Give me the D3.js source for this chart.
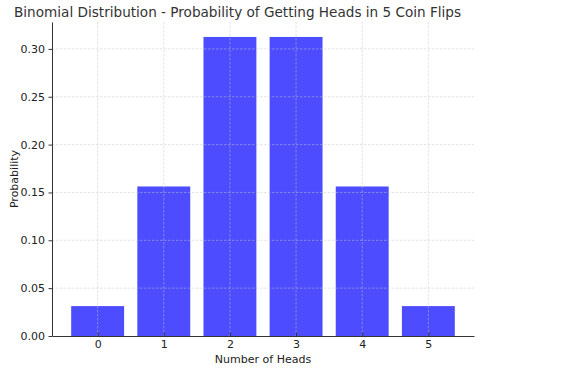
<!DOCTYPE html>
<html>
<head>
<meta charset="utf-8">
<script src="https://cdn.jsdelivr.net/npm/d3@7"></script>
<style>
  body { margin: 0; background: #fff; }
  svg text { font-family: "DejaVu Sans", sans-serif; }
</style>
</head>
<body>
<div id="chart"></div>
<script>
const heads = [0, 1, 2, 3, 4, 5];
const probs = [0.03125, 0.15625, 0.3125, 0.3125, 0.15625, 0.03125];
const yTicks = [0, 0.05, 0.1, 0.15, 0.2, 0.25, 0.3];

const W = 577, H = 372;
const margin = { top: 22, right: 103, bottom: 36, left: 52 };
const width = W - margin.left - margin.right;
const height = H - margin.top - margin.bottom;

const svg = d3.select("#chart").append("svg")
  .attr("width", W).attr("height", H);

const g = svg.append("g")
  .attr("transform", `translate(${margin.left},${margin.top})`);

const x = d3.scaleLinear().domain([-0.69, 5.69]).range([0, width]);
const y = d3.scaleLinear().domain([0, 0.328125]).range([height, 0]);

// bars
g.selectAll(".bar")
  .data(heads)
  .enter()
  .append("rect")
  .attr("class", "bar")
  .attr("x", (d) => x(d - 0.4))
  .attr("width", x(0.4) - x(-0.4))
  .attr("y", (d, i) => y(probs[i]))
  .attr("height", (d, i) => height - y(probs[i]))
  .attr("fill", "#4d4dff");

// grid (over bars, light)
const grid = g.append("g").attr("stroke", "#c4c4c4").attr("stroke-opacity", 0.6)
  .attr("stroke-width", 0.8).attr("stroke-dasharray", "2.5,1.5");
grid.selectAll(".gx").data(heads).enter().append("line")
  .attr("x1", (d) => x(d)).attr("x2", (d) => x(d))
  .attr("y1", 0).attr("y2", height);
grid.selectAll(".gy").data(yTicks.slice(1)).enter().append("line")
  .attr("x1", 0).attr("x2", width)
  .attr("y1", (d) => y(d)).attr("y2", (d) => y(d));

// axes
const xAxis = g.append("g")
  .attr("transform", `translate(0,${height})`)
  .call(d3.axisBottom(x).tickValues(heads).tickFormat(d3.format("d"))
    .tickSizeInner(-3.5).tickSizeOuter(0).tickPadding(4));
const yAxis = g.append("g")
  .call(d3.axisLeft(y).tickValues(yTicks).tickFormat(d3.format(".2f"))
    .tickSizeInner(3.5).tickSizeOuter(0).tickPadding(3.5));

[xAxis, yAxis].forEach((a) => {
  a.select(".domain").attr("stroke", "#333").attr("stroke-width", 1);
  a.selectAll(".tick line").attr("stroke", "#333");
  a.selectAll(".tick text").attr("fill", "#222")
    .style("font-size", "11px");
});

// labels
svg.append("text")
  .attr("x", 14).attr("y", 17)
  .attr("fill", "#333")
  .style("font-size", "13.6px")
  .text("Binomial Distribution - Probability of Getting Heads in 5 Coin Flips");

svg.append("text")
  .attr("x", margin.left + width / 2).attr("y", 363)
  .attr("text-anchor", "middle")
  .attr("fill", "#222")
  .style("font-size", "11px")
  .text("Number of Heads");

svg.append("text")
  .attr("transform", `translate(18,${margin.top + height / 2}) rotate(-90)`)
  .attr("text-anchor", "middle")
  .attr("fill", "#222")
  .style("font-size", "11px")
  .text("Probability");
</script>
</body>
</html>
